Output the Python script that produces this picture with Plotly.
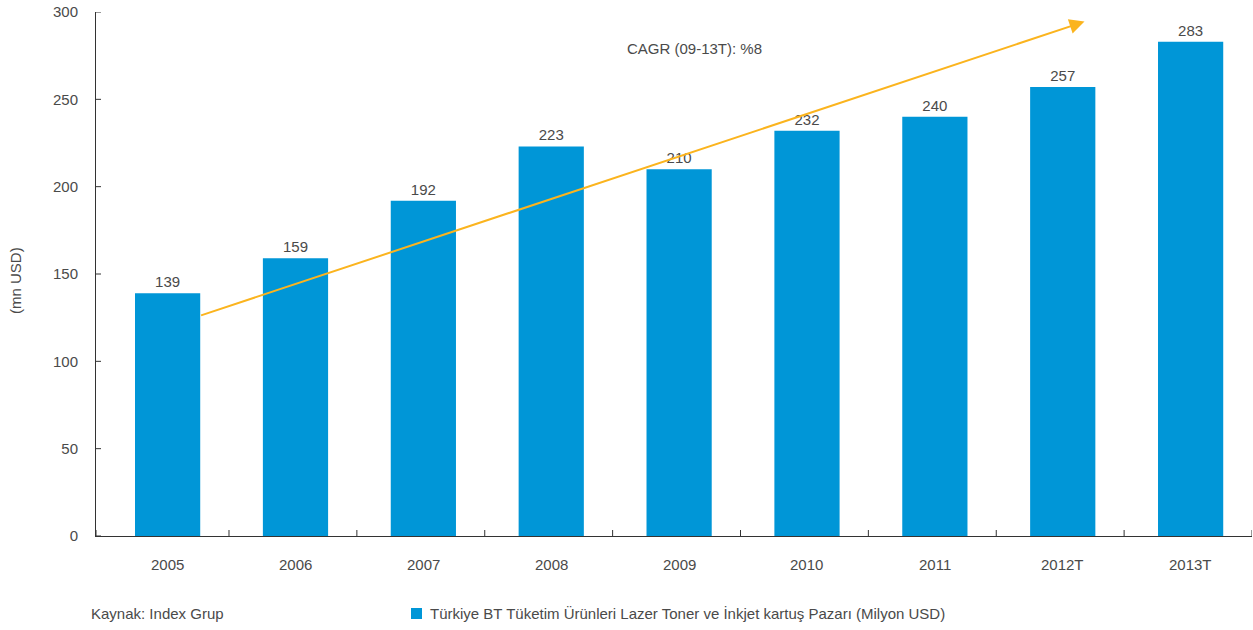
import plotly.graph_objects as go

years = ["2005", "2006", "2007", "2008", "2009", "2010", "2011", "2012T", "2013T"]
market = [139, 159, 192, 223, 210, 232, 240, 257, 283]
y_ticks = [0, 50, 100, 150, 200, 250, 300]

series_name = "Türkiye BT Tüketim Ürünleri Lazer Toner ve İnkjet kartuş Pazarı (Milyon USD)"
source_note = "Kaynak: Index Grup"
cagr_label = "CAGR (09-13T): %8"

BAR = "#0096D7"
ARROW = "#FBB41E"
AXIS = "#333333"
TEXT = "#4a4a4a"
FONT = "Liberation Sans"
FS = 15

W, H = 1253, 630
ML, MR, MT, MB = 96, 1, 12, 94
PW, PH = W - ML - MR, H - MT - MB


def px_x(p):
    return (p - ML) / PW


def px_y(p):
    return (H - MB - p) / PH


fig = go.Figure()
fig.add_trace(go.Bar(
    x=list(range(len(years))), y=market, name=series_name, showlegend=False,
    marker=dict(color=BAR, line=dict(width=0)), width=0.51,
    text=[str(v) for v in market], textposition="outside",
    textfont=dict(family=FONT, size=FS, color=TEXT), cliponaxis=False,
))

# growth trend arrow
fig.add_annotation(
    x=7.17, y=294.5, ax=0.25, ay=126, xref="x", yref="y", axref="x", ayref="y",
    showarrow=True, arrowhead=2, arrowsize=1.5, arrowwidth=2, arrowcolor=ARROW,
    text="",
)
fig.add_annotation(
    x=4.12, y=279.3, xref="x", yref="y", text=cagr_label, showarrow=False,
    font=dict(family=FONT, size=FS, color=TEXT), xanchor="center",
)

# ticks that cross the axis lines
shapes = []
x_bounds = [-0.56] + [i + 0.48 for i in range(len(years))]
for xb in x_bounds:
    shapes.append(dict(type="line", xref="x", yref="y", ysizemode="pixel", yanchor=0,
                       x0=xb, x1=xb, y0=-6, y1=6, line=dict(color=AXIS, width=1)))
for yt in y_ticks:
    shapes.append(dict(type="line", xref="x", yref="y", xsizemode="pixel", xanchor=-0.56,
                       x0=-5, x1=5, y0=yt, y1=yt, line=dict(color=AXIS, width=1)))

# legend swatch
shapes.append(dict(type="rect", xref="paper", yref="paper",
                   x0=px_x(411), x1=px_x(422), y0=px_y(619), y1=px_y(608),
                   fillcolor=BAR, line=dict(width=0)))
fig.update_layout(shapes=shapes)

for i, lab in enumerate(years):
    fig.add_annotation(x=i, y=0, xref="x", yref="y", yshift=-28, text=lab, showarrow=False,
                       font=dict(family=FONT, size=FS, color=TEXT))

fig.add_annotation(x=px_x(89), y=px_y(613), xref="paper", yref="paper", text=source_note,
                   showarrow=False, font=dict(family=FONT, size=FS, color=TEXT),
                   xanchor="left", yanchor="middle")
fig.add_annotation(x=px_x(428), y=px_y(613), xref="paper", yref="paper", text=series_name,
                   showarrow=False, font=dict(family=FONT, size=FS, color=TEXT),
                   xanchor="left", yanchor="middle")
fig.add_annotation(x=px_x(16), y=px_y(281), xref="paper", yref="paper", text="(mn USD)",
                   showarrow=False, textangle=-90, font=dict(family=FONT, size=FS, color=TEXT),
                   xanchor="center", yanchor="middle")

fig.update_layout(
    width=W, height=H,
    margin=dict(l=ML, r=MR, t=MT, b=MB),
    paper_bgcolor="white", plot_bgcolor="white",
    showlegend=False,
    xaxis=dict(range=[-0.56, 8.48], showticklabels=False, ticks="", showgrid=False,
               zeroline=False, showline=True, linecolor=AXIS, linewidth=1),
    yaxis=dict(range=[0, 300], tickvals=y_ticks, ticks="", showgrid=False, zeroline=False,
               showline=True, linecolor=AXIS, linewidth=1, ticklabelstandoff=14,
               tickfont=dict(family=FONT, size=FS, color=TEXT)),
    font=dict(family=FONT, color=TEXT),
)

fig.write_html("out.html")
